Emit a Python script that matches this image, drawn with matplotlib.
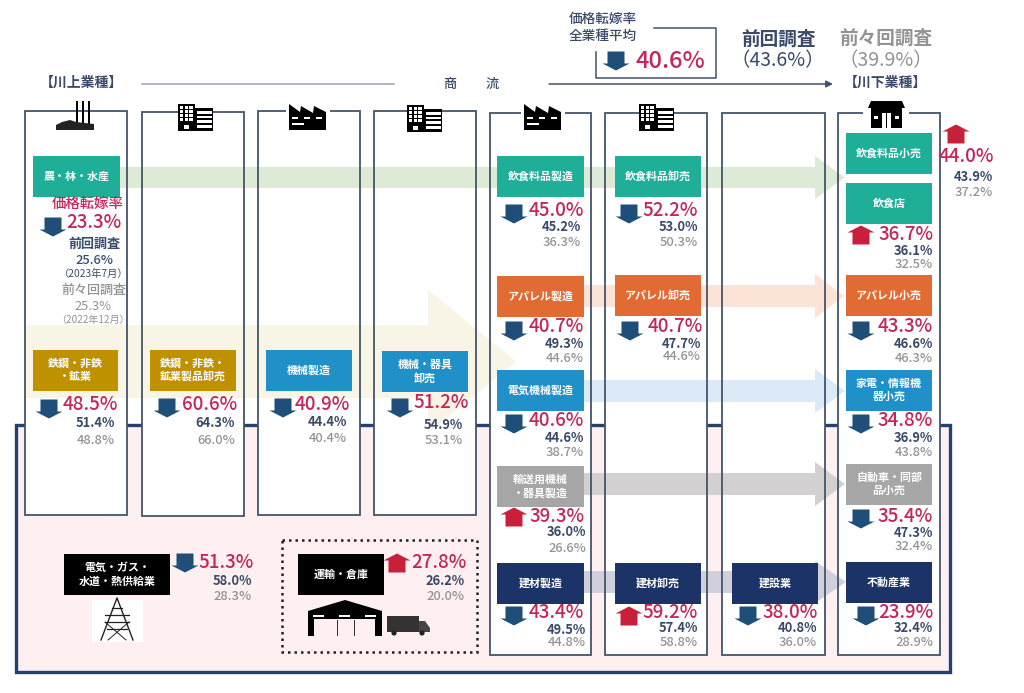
import matplotlib
matplotlib.use("Agg")
import matplotlib.pyplot as plt
from matplotlib.patches import Rectangle, Polygon, Circle

plt.rcParams["font.family"] = ["Noto Sans CJK JP", "DejaVu Sans"]

# chart values
sectors = ["農・林・水産", "鉄鋼・非鉄\n・鉱業", "鉄鋼・非鉄・\n鉱業製品卸売", "機械製造", "機械・器具\n卸売",
           "飲食料品製造", "飲食料品卸売", "アパレル製造", "アパレル卸売", "電気機械製造",
           "輸送用機械\n・器具製造", "建材製造", "建材卸売", "建設業",
           "飲食料品小売", "飲食店", "アパレル小売", "家電・情報機\n器小売", "自動車・同部\n品小売", "不動産業",
           "電気・ガス・\n水道・熱供給業", "運輸・倉庫"]
rates = [23.3, 48.5, 60.6, 40.9, 51.2,
         45.0, 52.2, 40.7, 40.7, 40.6,
         39.3, 43.4, 59.2, 38.0,
         44.0, 36.7, 43.3, 34.8, 35.4, 23.9,
         51.3, 27.8]
prev_rates = [25.6, 51.4, 64.3, 44.4, 54.9,
              45.2, 53.0, 49.3, 47.7, 44.6,
              36.0, 49.5, 57.4, 40.8,
              43.9, 36.1, 46.6, 36.9, 47.3, 32.4,
              58.0, 26.2]
prev2_rates = [25.3, 48.8, 66.0, 40.4, 53.1,
               36.3, 50.3, 44.6, 44.6, 38.7,
               26.6, 44.8, 58.8, 36.0,
               37.2, 32.5, 46.3, 43.8, 32.4, 28.9,
               28.3, 20.0]
avg_rate = 40.6
avg_prev = 43.6
avg_prev2 = 39.9

# layout in picture pixels
TEAL, ORANGE, GOLD, BLUE, GRAY, NAVY, BLACK = "#1FAE98", "#E26B33", "#BF9000", "#2090C8", "#A6A6A6", "#1B3366", "#000000"
box_x = [33, 33, 150, 266, 382, 497, 615, 497, 615, 497, 497, 497, 615, 732, 846, 846, 846, 846, 846, 846, 64, 298]
box_y = [156, 350, 350, 350, 351, 156, 156, 276, 275, 370, 466, 563, 563, 563, 133, 183, 275, 370, 464, 562, 554, 554]
box_w = [87, 85, 86, 86, 86, 87, 86, 87, 86, 87, 87, 87, 86, 86, 86, 86, 86, 86, 86, 86, 106, 86]
box_colors = [TEAL, GOLD, GOLD, BLUE, BLUE, TEAL, TEAL, ORANGE, ORANGE, BLUE, GRAY, NAVY, NAVY, NAVY,
              TEAL, TEAL, ORANGE, BLUE, GRAY, NAVY, BLACK, BLACK]
arrow_x = [53, 49, 167, 283, 400, 514, 629, 514, 630, 514, 514, 514, 629, 748, 956, 861, 861, 861, 861, 866, 185, 397]
arrow_y = [227, 409, 408, 408, 408, 214, 214, 331, 331, 424, 517, 616, 616, 616, 134, 235, 331, 424, 519, 616, 563, 563]
rate_x = [121, 118, 237, 350, 469, 584, 698, 584, 703, 584, 584, 584, 698, 818, 994, 933, 933, 933, 933, 933, 254, 466]
rate_y = [223, 405, 404, 404, 403, 210, 210, 326, 326, 420, 516, 612, 612, 612, 156, 235, 326, 421, 516, 612, 562, 562]
prev_x = [0, 115, 235, 347, 463, 581, 698, 584, 701, 584, 586, 586, 698, 817, 993, 933, 933, 933, 933, 933, 252, 465]
prev_y = [0, 423, 423, 422, 425, 227, 227, 344, 344, 438, 532, 630, 628, 628, 177, 251, 344, 438, 533, 628, 581, 581]
prev2_y = [0, 441, 440, 438, 440, 242, 242, 359, 357, 452, 548, 643, 643, 643, 193, 265, 358, 452, 547, 642, 597, 597]

columns = [(25, 127, 111, 515), (142, 244, 112, 516), (258, 360, 111, 515), (374, 476, 111, 515),
           (490, 591, 113, 655), (605, 707, 113, 655), (722, 825, 113, 655), (838, 940, 113, 655)]

LINE = "#44546A"
FRAME = "#24406F"
RED = "#C4265A"
DARK = "#3A4A6B"
MID = "#939393"
DOWN = "#1F4E79"
UP = "#C8203A"

fig = plt.figure(figsize=(10.24, 6.93), dpi=100)
ax = fig.add_axes([0, 0, 1, 1])
ax.set_xlim(0, 1024)
ax.set_ylim(693, 0)
ax.axis("off")


def flow_arrow(x0, x1, xh, y0, y1, spread, color, z=2):
    cy = (y0 + y1) / 2
    pts = [(x0, y0), (xh, y0), (xh, y0 - spread), (x1, cy), (xh, y1 + spread), (xh, y1), (x0, y1)]
    ax.add_patch(Polygon(pts, closed=True, fc=color, ec="none", zorder=z))


def block_arrow(cx, cy, up=False):
    s = -1 if up else 1
    color = UP if up else DOWN
    pts = [(cx - 8.5, cy - s * 9.5), (cx + 8.5, cy - s * 9.5), (cx + 8.5, cy + s * 2.5), (cx + 13.5, cy + s * 2.5),
           (cx, cy + s * 9.5), (cx - 13.5, cy + s * 2.5), (cx - 8.5, cy + s * 2.5)]
    ax.add_patch(Polygon(pts, closed=True, fc=color, ec="none", zorder=6))


def rect(x, y, w, h, color="black", z=7):
    ax.add_patch(Rectangle((x, y), w, h, fc=color, ec="none", zorder=z))


def poly(pts, color="black", z=7):
    ax.add_patch(Polygon(pts, closed=True, fc=color, ec="none", zorder=z))


def building_icon(x, y):
    # x, y is the top left of the icon
    rect(x, y, 17, 27)
    rect(x + 17, y + 4, 18, 23)
    for i in range(4):
        for j in range(3):
            rect(x + 2 + j * 4.6, y + 2 + i * 4, 3.4, 3, "white")
    for i in range(4):
        rect(x + 19, y + 7 + i * 4.6, 15, 2.8, "white")
    rect(x + 6, y + 21, 4.5, 4, "white")


def factory_icon(x, y):
    rect(x - 3, y, 44, 27, "white", 4)
    poly([(x, y + 26), (x, y), (x + 11, y + 8), (x + 12, y + 2), (x + 24, y + 9), (x + 25, y + 2),
          (x + 37, y + 8), (x + 37, y + 26)])
    for i in range(3):
        rect(x + 3 + i * 12, y + 13, 6, 1.8, "white")
    rect(x + 3, y + 19, 12, 1.8, "white")


def stack_icon(x, y):
    for off in (20, 26, 32):
        rect(x + off, y, 1.8, 23)
    poly([(x, y + 29), (x, y + 24), (x + 6, y + 21), (x + 14, y + 19), (x + 20, y + 21), (x + 38, y + 23),
          (x + 38, y + 29)], "#222222")
    for i in range(2):
        rect(x + 2, y + 24.5 + i * 2.2, 34, 0.7, "#777777")


def shop_icon(x, y):
    rect(x - 5, y, 46, 28, "white", 4)
    poly([(x + 3, y), (x + 34, y), (x + 37, y + 7), (x, y + 7)])
    rect(x + 3, y + 7, 31, 20)
    rect(x + 14, y + 12, 4, 15, "white")
    rect(x + 19, y + 12, 4, 15, "white")
    rect(x + 6, y + 15, 4, 3, "white")
    rect(x + 27, y + 15, 4, 3, "white")


def tower_icon(cx, y):
    rect(cx - 25, y + 2, 51, 42, "white", 3)
    ax.plot([cx - 16, cx, cx + 16], [y + 42, y, y + 42], color="#222222", lw=1.0, zorder=7)
    for dy, half in [(10, 5), (17, 12), (24, 12), (31, 10)]:
        ax.plot([cx - half, cx + half], [y + dy, y + dy], color="#222222", lw=0.9, zorder=7)
    ax.plot([cx - 9, cx + 12], [y + 42, y + 24], color="#222222", lw=0.7, zorder=7)
    ax.plot([cx + 9, cx - 12], [y + 42, y + 24], color="#222222", lw=0.7, zorder=7)


def warehouse_icon(x, y):
    poly([(x, y + 36), (x, y + 11), (x + 37, y), (x + 74, y + 11), (x + 74, y + 36), (x + 67, y + 36), (x + 67, y + 19),
          (x + 6, y + 19), (x + 6, y + 36)])
    for i in range(3):
        rect(x + 5 + i * 26, y + 15, 11, 2, "white")
    for i in range(2):
        rect(x + 29 + i * 17, y + 20, 0.9, 16, "#333333")
    # truck
    rect(x + 79, y + 16, 32, 16, "#333333")
    poly([(x + 111, y + 21), (x + 117, y + 21), (x + 122, y + 28), (x + 122, y + 32), (x + 111, y + 32)], "#444444")
    for off in (86, 114):
        ax.add_patch(Circle((x + off, y + 33), 2.6, fc="#222222", ec="none", zorder=8))


# pink background and thick frame
ax.add_patch(Rectangle((16, 425), 934, 247, fc="#FEF0F1", ec=FRAME, lw=2.4, zorder=1))

# white columns, then flow arrows on top
for x0, x1, y0, y1 in columns:
    ax.add_patch(Rectangle((x0, y0), x1 - x0, y1 - y0, fc="white", ec="none", zorder=1.5))

flow_arrow(25, 516, 428, 325, 398, 35, "#F8F4E6")
flow_arrow(120, 845, 815, 167, 188, 11, "#DDEBD6")
flow_arrow(584, 844, 815, 285, 307, 11, "#FBE3D6")
flow_arrow(584, 845, 815, 380, 402, 11, "#DCE9F6")
flow_arrow(584, 845, 815, 473, 495, 11, "#D2D0D0")
flow_arrow(584, 846, 815, 571, 593, 10, "#CFD0DC")

for x0, x1, y0, y1 in columns:
    ax.add_patch(Rectangle((x0, y0), x1 - x0, y1 - y0, fc="none", ec=LINE, lw=1.3, zorder=3))

# icons on the column tops
stack_icon(56, 101)
building_icon(178, 104)
factory_icon(289, 104)
building_icon(407, 105)
factory_icon(524, 104)
building_icon(639, 104)
shop_icon(868, 101)
tower_icon(117, 598)
warehouse_icon(308, 600)

# sector boxes and rates
for i, name in enumerate(sectors):
    rect(box_x[i], box_y[i], box_w[i], 40.5, box_colors[i], 5)
    ax.text(box_x[i] + box_w[i] / 2, box_y[i] + 20.5, name, color="white", fontsize=7.9, fontweight="bold",
            ha="center", va="center", linespacing=1.35, zorder=6)
    block_arrow(arrow_x[i], arrow_y[i], up=rates[i] > prev_rates[i])
    ax.text(rate_x[i], rate_y[i], f"{rates[i]:.1f}%", color=RED, fontsize=13.5, fontweight="medium",
            ha="right", va="center", zorder=7)
    if i == 0:
        continue
    ax.text(prev_x[i], prev_y[i], f"{prev_rates[i]:.1f}%", color=DARK, fontsize=9.3, fontweight="bold",
            ha="right", va="center", zorder=7)
    ax.text(prev_x[i], prev2_y[i], f"{prev2_rates[i]:.1f}%", color=MID, fontsize=9.3, fontweight="medium",
            ha="right", va="center", zorder=7)

# dotted box around transport
ax.add_patch(Rectangle((282, 540), 195, 112, fc="none", ec="#222222", lw=1.8, ls=(0, (1, 1.6)), zorder=4))

# notes in the first column
ax.text(88, 204, "価格転嫁率", color=RED, fontsize=10.4, fontweight="medium", ha="center", va="center", zorder=7)
ax.text(94, 244, "前回調査", color=DARK, fontsize=9.4, fontweight="bold", ha="center", va="center", zorder=7)
ax.text(94, 260, f"{prev_rates[0]:.1f}%", color=DARK, fontsize=9.3, fontweight="medium", ha="center", va="center", zorder=7)
ax.text(94, 274, "（2023年7月）", color=DARK, fontsize=7.4, ha="center", va="center", zorder=7)
ax.text(94, 290, "前々回調査", color=MID, fontsize=9.4, fontweight="medium", ha="center", va="center", zorder=7)
ax.text(93, 306, f"{prev2_rates[0]:.1f}%", color=MID, fontsize=9.3, ha="center", va="center", zorder=7)
ax.text(93, 320, "（2022年12月）", color=MID, fontsize=7.2, ha="center", va="center", zorder=7)

# header
ax.text(81, 83, "【川上業種】", color=DARK, fontsize=10, fontweight="bold", ha="center", va="center")
ax.plot([142, 394], [84, 84], color="#9EA3B5", lw=1.1)
ax.text(450, 84, "商", color=DARK, fontsize=9.4, fontweight="medium", ha="center", va="center")
ax.text(492, 84, "流", color=DARK, fontsize=9.4, fontweight="medium", ha="center", va="center")
ax.annotate("", xy=(833, 84), xytext=(549, 84), arrowprops=dict(arrowstyle="-|>", color=LINE, lw=1.1, mutation_scale=10, shrinkA=0, shrinkB=0))
ax.text(885, 83, "【川下業種】", color=DARK, fontsize=10, fontweight="bold", ha="center", va="center")

# all sector average
ax.plot([654, 716, 716, 596, 596], [28, 28, 78, 78, 52], color=LINE, lw=1.1)
ax.text(569, 19, "価格転嫁率", color=DARK, fontsize=9.8, fontweight="medium", ha="left", va="center")
ax.text(569, 36, "全業種平均", color=DARK, fontsize=9.8, fontweight="medium", ha="left", va="center")
block_arrow(616, 61)
ax.text(705, 61, f"{avg_rate:.1f}%", color=RED, fontsize=17, fontweight="medium", ha="right", va="center")
ax.text(778, 39, "前回調査", color=DARK, fontsize=13.4, fontweight="bold", ha="center", va="center")
ax.text(778, 61, f"（{avg_prev:.1f}%）", color=DARK, fontsize=14, ha="center", va="center")
ax.text(886, 38, "前々回調査", color=MID, fontsize=13.4, fontweight="bold", ha="center", va="center")
ax.text(886, 61, f"（{avg_prev2:.1f}%）", color=MID, fontsize=14, ha="center", va="center")

fig.savefig("out.png", dpi=100)
